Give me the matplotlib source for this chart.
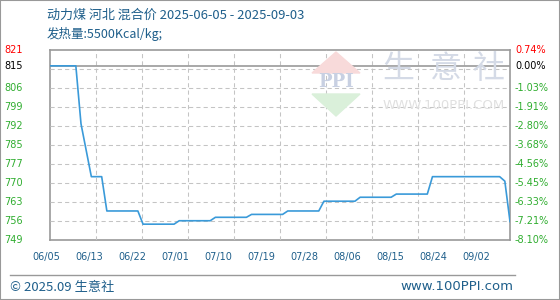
import matplotlib
matplotlib.use('Agg')
import matplotlib.pyplot as plt
from matplotlib.patches import Polygon
import matplotlib.transforms as mtransforms
import numpy as np
import pandas as pd

plt.rcParams['font.family'] = ['Noto Sans CJK SC', 'DejaVu Sans']

# Data: daily mixed price, 2025-06-05 .. 2025-09-02
dates = pd.date_range('2025-06-05', periods=90, freq='D')
prices = [
    815, 815, 815, 815, 815, 815, 793, 783, 773, 773,
    773, 760, 760, 760, 760, 760, 760, 760, 755, 755,
    755, 755, 755, 755, 755, 756.3, 756.3, 756.3, 756.3, 756.3,
    756.3, 756.3, 757.6, 757.6, 757.6, 757.6, 757.6, 757.6, 757.6, 758.7,
    758.7, 758.7, 758.7, 758.7, 758.7, 758.7, 760, 760, 760, 760,
    760, 760, 760, 763.7, 763.7, 763.7, 763.7, 763.7, 763.7, 763.7,
    765.2, 765.2, 765.2, 765.2, 765.2, 765.2, 765.2, 766.4, 766.4, 766.4,
    766.4, 766.4, 766.4, 766.4, 773, 773, 773, 773, 773, 773,
    773, 773, 773, 773, 773, 773, 773, 773, 771.3, 756,
]
base_price = 815
y_min, y_max = 749, 821
left_labels = ['749', '756', '763', '770', '777', '785', '792', '799', '806', '815', '821']
right_labels = ['-8.10%', '-7.21%', '-6.33%', '-5.45%', '-4.56%', '-3.68%',
                '-2.80%', '-1.91%', '-1.03%', '0.00%', '0.74%']
x_labels = ['06/05', '06/13', '06/22', '07/01', '07/10', '07/19',
            '07/28', '08/06', '08/15', '08/24', '09/02']

title = '动力煤 河北 混合价 2025-06-05 - 2025-09-03'
subtitle = '发热量:5500Kcal/kg;'

blue_txt = '#1f5f8b'
green = '#2fad2f'
grid_c = '#c4c4c4'
frame_c = '#999999'

fig = plt.figure(figsize=(5.6, 3.0), dpi=100)
ax = fig.add_axes([50 / 560, 60 / 300, 460 / 560, 190 / 300])

x = np.arange(len(dates))
ax.set_xlim(0, 89)
ax.set_ylim(y_min, y_max)

# grid
grid_y = [y_min + 7.2 * k for k in range(1, 10)]
ax.set_yticks(grid_y)
ax.set_xticks([8.9 * k for k in range(1, 10)])
ax.grid(True, color=grid_c, lw=0.75, ls=(0, (4, 3)), zorder=2)
ax.tick_params(length=0, labelleft=False, labelbottom=False)
ax.set_axisbelow(False)
ax.axhline(base_price, color=frame_c, lw=1.2, zorder=3)

ax.plot(x, prices, color='#3a9ad9', lw=1.2, zorder=4)

for s in ax.spines.values():
    s.set_color(frame_c)
    s.set_linewidth(1.2)

# y labels
tick_vals = [y_min + 7.2 * k for k in range(9)] + [base_price, y_max]
trans_l = mtransforms.blended_transform_factory(fig.transFigure, ax.transData)
for i, (v, lab, rlab) in enumerate(zip(tick_vals, left_labels, right_labels)):
    if i == 10:
        c = 'red'
    elif i == 9:
        c = 'black'
    else:
        c = green
    ax.text(4 / 560, v, lab, transform=trans_l, color=c, fontsize=7,
            family='DejaVu Sans', va='center', ha='left')
    ax.text(515 / 560, v, rlab, transform=trans_l, color=c, fontsize=7,
            family='DejaVu Sans', va='center', ha='left')

# x labels
for k, lab in enumerate(x_labels):
    fig.text((46 + 43 * k) / 560, 1 - 257 / 300, lab, color=blue_txt,
             fontsize=7, family='DejaVu Sans', ha='center', va='center')

# titles
fig.text(47 / 560, 1 - 15 / 300, title, color=blue_txt, fontsize=9.4, va='center')
fig.text(47 / 560, 1 - 34 / 300, subtitle, color=blue_txt, fontsize=9, va='center')

# watermark
fig.patches.append(Polygon([[336 / 560, 1 - 52 / 300], [312 / 560, 1 - 73 / 300],
                            [360 / 560, 1 - 73 / 300]], closed=True,
                           transform=fig.transFigure, color='#f8dada', zorder=0))
fig.patches.append(Polygon([[312 / 560, 1 - 94 / 300], [360 / 560, 1 - 94 / 300],
                            [336 / 560, 1 - 116 / 300]], closed=True,
                           transform=fig.transFigure, color='#daf0da', zorder=0))
fig.text(336 / 560, 1 - 82 / 300, 'PPI', color='#c8d0e2', fontsize=13,
         family='DejaVu Serif', weight='bold', ha='center', va='center', zorder=0)
for cx, ch in zip([398, 446, 488], '生意社'):
    fig.text(cx / 560, 1 - 69 / 300, ch, color='#d4dae6', fontsize=23,
             ha='center', va='center', zorder=0)
fig.text(444 / 560, 1 - 106 / 300, 'WWW.100PPI.COM', color='#e0e0e0', fontsize=9.5,
         family='DejaVu Sans', ha='center', va='center', zorder=0)

# footer
fig.add_artist(plt.Line2D([10 / 560, 515 / 560], [1 - 275 / 300, 1 - 275 / 300],
                          transform=fig.transFigure, color=frame_c, lw=1))
fig.text(10 / 560, 1 - 287 / 300, '© 2025.09 生意社', color=blue_txt, fontsize=9.5,
         va='center', ha='left')
fig.text(513 / 560, 1 - 287 / 300, 'www.100PPI.com', color=blue_txt, fontsize=9.5,
         family='DejaVu Sans', va='center', ha='right')

# outer border
fig.add_artist(plt.Rectangle((0, 0), 1, 1, transform=fig.transFigure, fill=False,
                             edgecolor=frame_c, lw=1.5))

fig.savefig('out.png', dpi=100)
